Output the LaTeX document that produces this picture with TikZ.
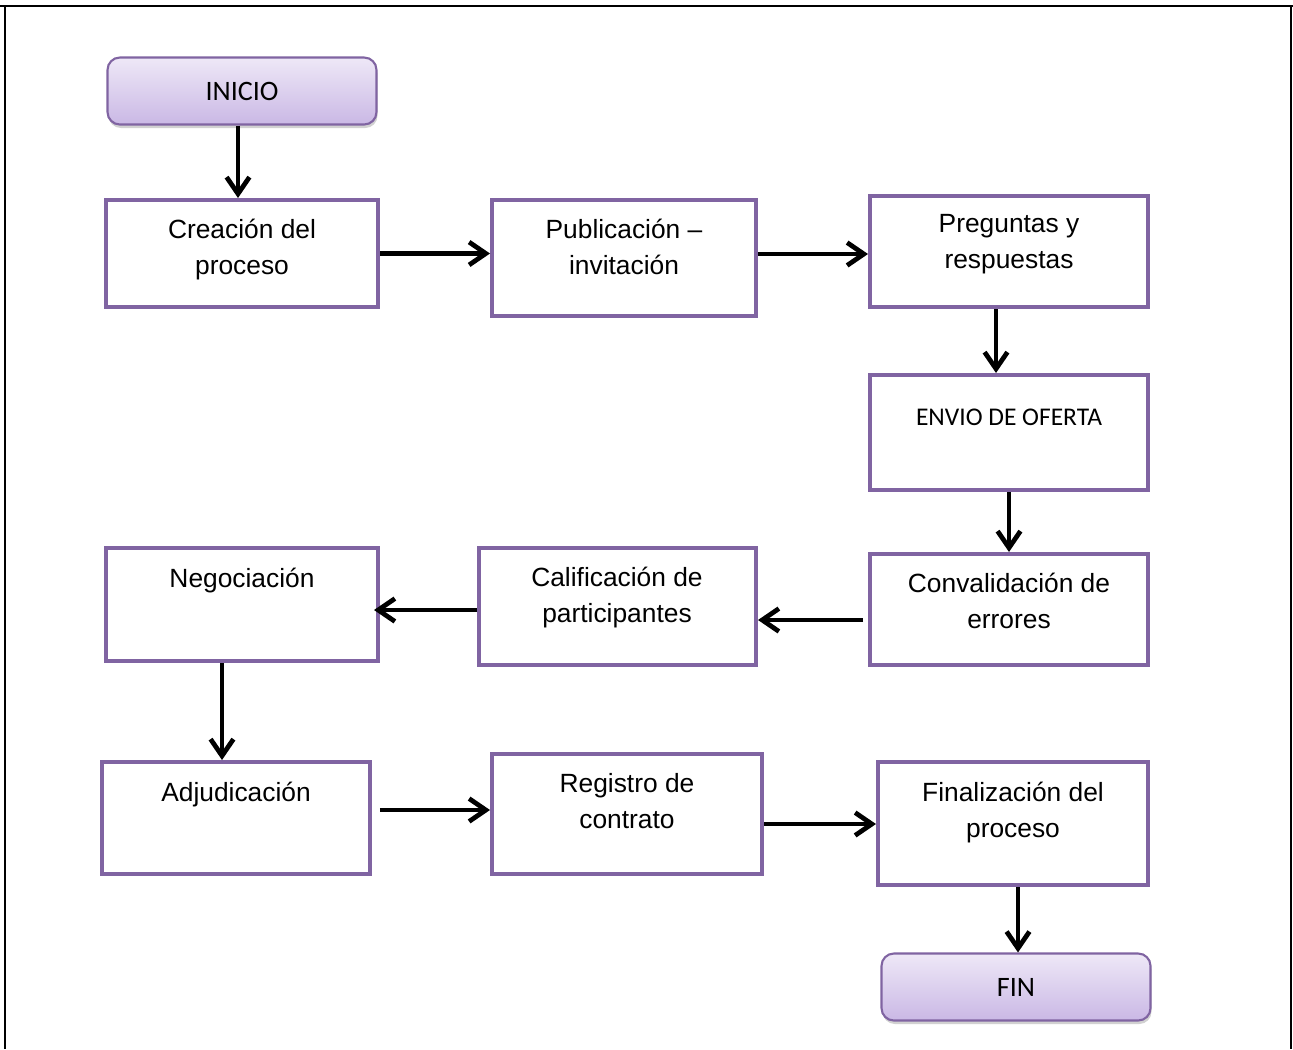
\documentclass[tikz,border=0pt]{standalone}
\usepackage{fontspec}
\setmainfont{Liberation Sans}
\newfontfamily\calibri{Carlito}
\usepackage{tikz}
\usetikzlibrary{%
  arrows.meta,%
  positioning,% wg. " of "
  shadows,%
  calc%
}
\definecolor{lila}{RGB}{128,100,162}
\definecolor{lilatop}{RGB}{238,232,247}
\definecolor{lilabot}{RGB}{202,184,229}

\tikzset{
  paso/.style={draw=lila, line width=2.3pt, fill=white, inner sep=0pt},
  extremo/.style={draw=lila, line width=1.2pt, rounded corners=7pt,
    top color=lilatop, bottom color=lilabot,
    minimum width=5.38cm, minimum height=1.34cm,
    font=\calibri\fontsize{16}{19}\selectfont,
    drop shadow={shadow xshift=0.6pt, shadow yshift=-2pt, opacity=0.3, fill=black!60}},
  txt/.style={anchor=north, inner sep=0pt, align=center,
    font=\fontsize{15}{20.4}\selectfont},
  flecha/.style={->, line width=2.7pt},
}

\begin{document}
\begin{tikzpicture}[
  x=0.02cm, y=-0.02cm,
  >={Straight Barb[length=9.5pt,width=13pt,line width=2.7pt]},
]
\useasboundingbox (0,0) rectangle (1293,1049);

% marco
\draw[line width=1.4pt] (0,6) -- (1293,6);
\draw[line width=1.4pt] (5,6) -- (5,1049);
\draw[line width=1.4pt] (1291,6) -- (1291,1049);

\node[extremo] (inicio) at (242,91) {INICIO};
\node[extremo] (fin) at (1016,987) {FIN};

\node[paso, minimum width=5.44cm, minimum height=2.14cm] (crea) at (242,253.5) {};
\node[paso, minimum width=5.28cm, minimum height=2.32cm] (publ) at (624,258) {};
\node[paso, minimum width=5.56cm, minimum height=2.22cm] (preg) at (1009,251.5) {};
\node[paso, minimum width=5.56cm, minimum height=2.30cm] (envio) at (1009,432.5) {};
\node[paso, minimum width=5.56cm, minimum height=2.22cm] (conv) at (1009,609.5) {};
\node[paso, minimum width=5.54cm, minimum height=2.34cm] (cali) at (617.5,606.5) {};
\node[paso, minimum width=5.44cm, minimum height=2.26cm] (nego) at (242,604.5) {};
\node[paso, minimum width=5.36cm, minimum height=2.24cm] (adju) at (236,818) {};
\node[paso, minimum width=5.40cm, minimum height=2.40cm] (regi) at (627,814) {};
\node[paso, minimum width=5.40cm, minimum height=2.46cm] (fina) at (1013,823.5) {};

% textos
\node[txt] (crea-t) at (242,218.5) {Creación del\\proceso};
\node[txt] (publ-t) at (624,218.5) {Publicación –\\invitación};
\node[txt] (preg-t) at (1009,214.5) {Preguntas y\\respuestas};
\node[txt, font=\calibri\fontsize{14.5}{18}\selectfont] (envio-t) at (1009,409) {ENVIO DE OFERTA};
\node[txt] (conv-t) at (1009,572.5) {Convalidación de\\errores};
\node[txt] (cali-t) at (617,566.5) {Calificación de\\participantes};
\node[txt] (nego-t) at (242,567.5) {Negociación};
\node[txt] (adju-t) at (236,781.5) {Adjudicación};
\node[txt] (regi-t) at (627,773.5) {Registro de\\contrato};
\node[txt] (fina-t) at (1013,781.5) {Finalización del\\proceso};

% flechas
\draw[flecha] ([xshift=-0.08cm]inicio.south) -- ([xshift=-0.08cm]crea.north);
\draw[flecha] (crea.east) -- (crea.east -| publ.west);
\draw[flecha] ([yshift=0.08cm]publ.east) -- ([yshift=0.08cm]publ.east -| preg.west);
\draw[flecha] ([xshift=-0.26cm]preg.south) -- ([xshift=-0.26cm]preg.south |- envio.north);
\draw[flecha] (envio.south) -- (conv.north);
\draw[flecha] ([yshift=-0.21cm,xshift=-0.1cm]conv.west) -- ([yshift=-0.21cm]conv.west -| cali.east);
\draw[flecha] ([yshift=-0.07cm]cali.west) -- ([yshift=-0.07cm,xshift=-0.12cm]cali.west -| nego.east);
\draw[flecha] ([xshift=-0.4cm]nego.south) -- ([xshift=-0.4cm]nego.south |- adju.north);
\draw[flecha] ([yshift=0.16cm,xshift=0.16cm]adju.east) -- ([yshift=0.16cm]adju.east -| regi.west);
\draw[flecha] ([yshift=-0.2cm]regi.east) -- ([yshift=-0.2cm]regi.east -| fina.west);
\draw[flecha] ([xshift=0.1cm]fina.south) -- ([xshift=0.1cm]fina.south |- fin.north);

\end{tikzpicture}
\end{document}
